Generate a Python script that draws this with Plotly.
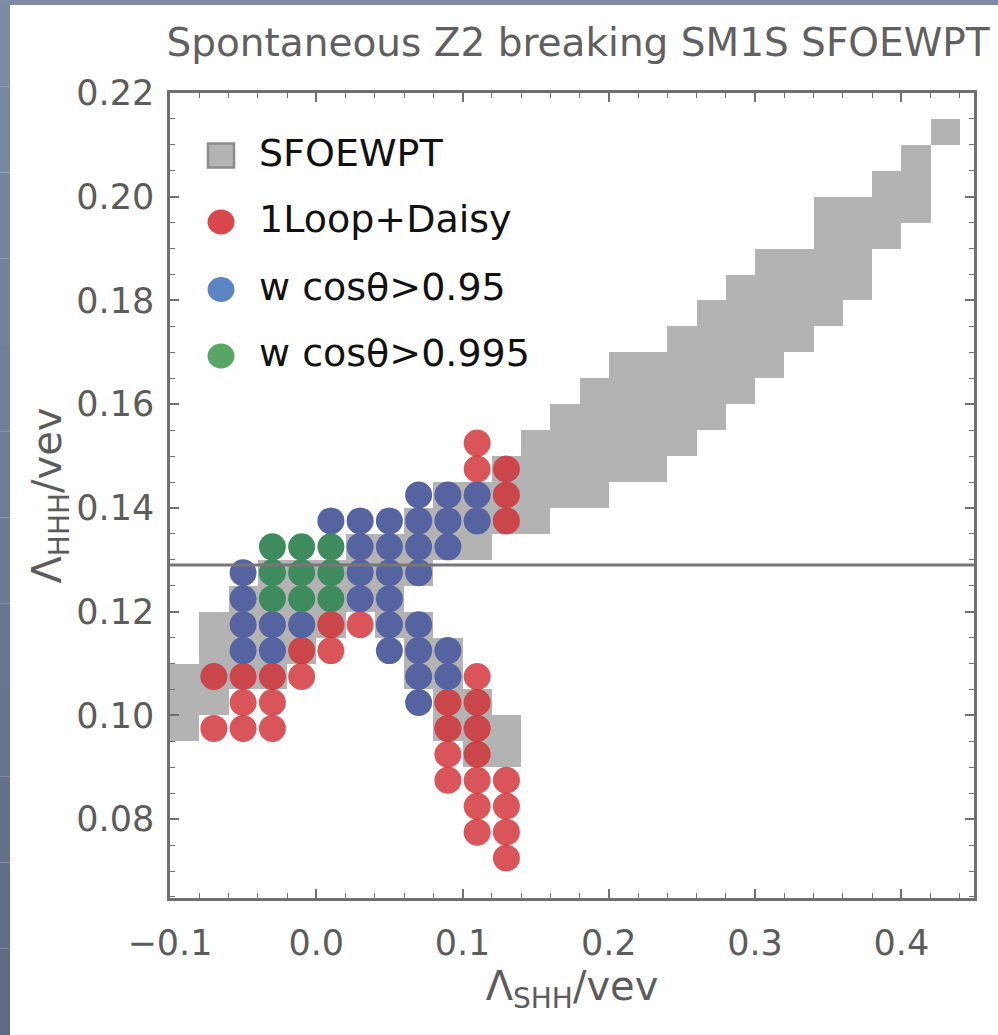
import plotly.graph_objects as go

# ---------------- data ----------------
# SFOEWPT region: grid columns (centre in x) with lower / upper y-edge of the filled band
sfo_x = [-0.09, -0.07, -0.05, -0.03, -0.01, 0.01, 0.03, 0.05, 0.07, 0.07, 0.09, 0.09,
         0.11, 0.11, 0.13, 0.13, 0.15, 0.17, 0.19, 0.21, 0.23, 0.25, 0.27, 0.29,
         0.31, 0.33, 0.35, 0.37, 0.39, 0.41, 0.43]
sfo_lo = [0.095, 0.100, 0.105, 0.105, 0.110, 0.115, 0.120, 0.115, 0.105, 0.125, 0.095, 0.130,
          0.090, 0.130, 0.090, 0.135, 0.135, 0.140, 0.140, 0.145, 0.145, 0.150, 0.155, 0.160,
          0.165, 0.170, 0.175, 0.180, 0.190, 0.195, 0.210]
sfo_hi = [0.110, 0.120, 0.125, 0.130, 0.130, 0.130, 0.135, 0.135, 0.120, 0.140, 0.115, 0.145,
          0.105, 0.145, 0.100, 0.150, 0.155, 0.160, 0.165, 0.170, 0.170, 0.175, 0.180, 0.185,
          0.190, 0.190, 0.200, 0.200, 0.205, 0.210, 0.215]

# 1Loop+Daisy points
red_x = [0.11,
         0.11, 0.13,
         0.13,
         0.13,
         0.01, 0.03,
         -0.01, 0.01,
         -0.07, -0.05, -0.03, -0.01, 0.11,
         -0.05, -0.03, 0.09, 0.11,
         -0.07, -0.05, -0.03, 0.09, 0.11,
         0.09, 0.11,
         0.09, 0.11, 0.13,
         0.11, 0.13,
         0.11, 0.13,
         0.13]
red_y = [0.1525,
         0.1475, 0.1475,
         0.1425,
         0.1375,
         0.1175, 0.1175,
         0.1125, 0.1125,
         0.1075, 0.1075, 0.1075, 0.1075, 0.1075,
         0.1025, 0.1025, 0.1025, 0.1025,
         0.0975, 0.0975, 0.0975, 0.0975, 0.0975,
         0.0925, 0.0925,
         0.0875, 0.0875, 0.0875,
         0.0825, 0.0825,
         0.0775, 0.0775,
         0.0725]

# w cos(theta) > 0.95
blue_x = [0.07, 0.09, 0.11,
          0.01, 0.03, 0.05, 0.07, 0.09, 0.11,
          0.03, 0.05, 0.07, 0.09,
          -0.05, 0.03, 0.05, 0.07,
          -0.05, 0.03, 0.05,
          -0.05, -0.03, -0.01, 0.05, 0.07,
          -0.05, -0.03, 0.05, 0.07, 0.09,
          0.07, 0.09,
          0.07]
blue_y = [0.1425, 0.1425, 0.1425,
          0.1375, 0.1375, 0.1375, 0.1375, 0.1375, 0.1375,
          0.1325, 0.1325, 0.1325, 0.1325,
          0.1275, 0.1275, 0.1275, 0.1275,
          0.1225, 0.1225, 0.1225,
          0.1175, 0.1175, 0.1175, 0.1175, 0.1175,
          0.1125, 0.1125, 0.1125, 0.1125, 0.1125,
          0.1075, 0.1075,
          0.1025]

# w cos(theta) > 0.995
green_x = [-0.03, -0.01, 0.01, -0.03, -0.01, 0.01, -0.03, -0.01, 0.01]
green_y = [0.1325, 0.1325, 0.1325, 0.1275, 0.1275, 0.1275, 0.1225, 0.1225, 0.1225]

sm_lambda = 0.129          # SM trilinear reference line
cell_width = 0.02

legend_names = ["SFOEWPT", "1Loop+Daisy", "w cosθ>0.95", "w cosθ>0.995"]
title_text = "Spontaneous Z2 breaking SM1S SFOEWPT"
SUB = '<span style="font-size:28px;baseline-shift:-8px">%s</span>'
x_title = "Λ" + SUB % "SHH" + "/vev"
y_title = "Λ" + SUB % "HHH" + "/vev"

# ---------------- figure ----------------
W, H = 998, 1035
L, R, T, B = 170, 24, 93, 137
PW, PH = W - L - R, H - T - B

def px2paper(px, py):
    return (px - L) / PW, (H - B - py) / PH

FONT = "DejaVu Sans"
GRAY_TXT = "#5c5c5c"
FRAME = "#707070"
LEG_SIZE = 38

fig = go.Figure()

fig.add_trace(go.Bar(
    x=sfo_x, base=sfo_lo, y=[h - l for h, l in zip(sfo_hi, sfo_lo)],
    width=cell_width, marker=dict(color="#b3b3b3", line=dict(width=0)),
    name=legend_names[0], showlegend=False, hoverinfo="skip"))

fig.add_trace(go.Scatter(
    x=red_x, y=red_y, mode="markers", name=legend_names[1], showlegend=False,
    marker=dict(size=27, color="#cf2a30", opacity=0.8, line=dict(width=0))))
fig.add_trace(go.Scatter(
    x=blue_x, y=blue_y, mode="markers", name=legend_names[2], showlegend=False,
    marker=dict(size=27, color="#5663a1", line=dict(width=0))))
fig.add_trace(go.Scatter(
    x=green_x, y=green_y, mode="markers", name=legend_names[3], showlegend=False,
    marker=dict(size=27, color="#3e8b5e", line=dict(width=0))))

shapes = []
# slide border (blue-grey strip on the left/top)
n_seg = 12
top_c = (0x7c, 0x8b, 0xa7)
bot_c = (0x5e, 0x6a, 0x80)
for k in range(n_seg):
    t0 = k / n_seg
    t1 = (k + 1) / n_seg
    c = tuple(int(round(top_c[i] + (bot_c[i] - top_c[i]) * (t0 + t1) / 2)) for i in range(3))
    x0p, y0p = px2paper(0, H * t0)
    x1p, y1p = px2paper(10, H * t1)
    shapes.append(dict(type="rect", xref="paper", yref="paper", x0=x0p, x1=x1p, y0=y1p, y1=y0p,
                       fillcolor="rgb(%d,%d,%d)" % c, line=dict(width=0), layer="below"))
x0p, y0p = px2paper(0, 0)
x1p, y1p = px2paper(W, 5)
shapes.append(dict(type="rect", xref="paper", yref="paper", x0=x0p, x1=x1p, y0=y1p, y1=y0p,
                   fillcolor="rgb(124,139,167)", line=dict(width=0), layer="below"))

# SM reference line
shapes.append(dict(type="line", xref="paper", x0=0, x1=1, yref="y", y0=sm_lambda, y1=sm_lambda,
                   line=dict(color="#777777", width=3), layer="above"))

# custom legend (large symbols)
leg_px_x = 221
leg_px_y = [155.6, 222, 289.5, 356]
leg_cols = ["#b4b4b4", "#d9474d", "#5b84c5", "#58a666"]
annotations = []
for k, (name, col, py) in enumerate(zip(legend_names, leg_cols, leg_px_y)):
    ax, ay = px2paper(leg_px_x, py)
    if k == 0:
        shapes.append(dict(type="rect", xref="paper", yref="paper", xsizemode="pixel",
                           ysizemode="pixel", xanchor=ax, yanchor=ay, x0=-13, x1=13, y0=-12, y1=12,
                           fillcolor=col, line=dict(color="#8c8c8c", width=2.5), layer="above"))
    else:
        shapes.append(dict(type="circle", xref="paper", yref="paper", xsizemode="pixel",
                           ysizemode="pixel", xanchor=ax, yanchor=ay, x0=-13.5, x1=13.5, y0=-12.5,
                           y1=12.5, fillcolor=col, line=dict(width=0), layer="above"))
    tx, ty = px2paper(257, py - 3)
    annotations.append(dict(text=name, xref="paper", yref="paper", x=tx, y=ty,
                            xanchor="left", yanchor="middle", showarrow=False,
                            font=dict(family=FONT, size=LEG_SIZE, color="#111111")))

fig.update_layout(
    width=W, height=H,
    margin=dict(l=L, r=R, t=T, b=B, pad=0),
    paper_bgcolor="white", plot_bgcolor="white",
    barmode="overlay", bargap=0,
    showlegend=False,
    title=dict(text=title_text, x=578 / W, xanchor="center", y=1 - 42 / H, yanchor="middle",
               xref="container", yref="container",
               font=dict(family=FONT, size=39, color="#606060")),
    shapes=shapes, annotations=annotations,
    font=dict(family=FONT, size=35),
)

fig.update_xaxes(
    range=[-0.1, 0.4497], showgrid=False, zeroline=False,
    showline=True, linecolor=FRAME, linewidth=2.5, mirror="allticks",
    ticks="inside", ticklen=9, tickwidth=1.5, tickcolor=FRAME,
    dtick=0.1, tick0=0, tickformat=".1f",
    minor=dict(ticks="inside", ticklen=5, tickwidth=1, tickcolor=FRAME, dtick=0.02, tick0=0),
    tickfont=dict(family=FONT, size=35, color=GRAY_TXT), ticklabelstandoff=12,
    title=dict(text=x_title, standoff=4, font=dict(family=FONT, size=40, color=GRAY_TXT)),
)
fig.update_yaxes(
    range=[0.0648, 0.22], showgrid=False, zeroline=False,
    showline=True, linecolor=FRAME, linewidth=2.5, mirror="allticks",
    ticks="inside", ticklen=9, tickwidth=1.5, tickcolor=FRAME,
    dtick=0.02, tick0=0, tickformat=".2f",
    minor=dict(ticks="inside", ticklen=5, tickwidth=1, tickcolor=FRAME, dtick=0.005, tick0=0),
    tickfont=dict(family=FONT, size=35, color=GRAY_TXT), ticklabelstandoff=6,
    title=dict(text=y_title, standoff=3, font=dict(family=FONT, size=40, color=GRAY_TXT)),
)

fig.write_html("out.html")
